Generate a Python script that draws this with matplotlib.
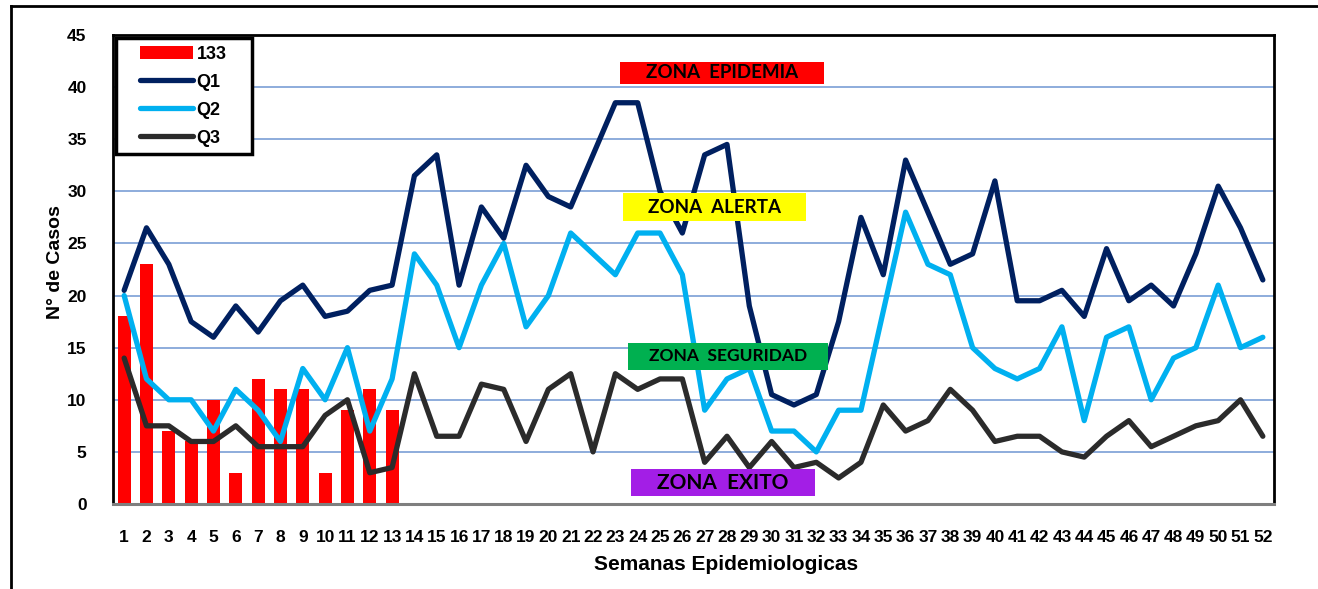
import matplotlib
matplotlib.use('Agg')
import matplotlib.pyplot as plt
from matplotlib.patches import Rectangle, Patch
from matplotlib.lines import Line2D
from matplotlib.legend_handler import HandlerLine2D, HandlerPatch

# Semanas epidemiologicas 1..52
semanas = list(range(1, 53))

# Casos notificados 2013 (solo hasta la semana 13)
casos_133 = [18, 23, 7, 6, 10, 3, 12, 11, 11, 3, 9, 11, 9]

# Cuartiles del canal endemico
q1 = [20.5, 26.5, 23, 17.5, 16, 19, 16.5, 19.5, 21, 18, 18.5, 20.5, 21,
      31.5, 33.5, 21, 28.5, 25.5, 32.5, 29.5, 28.5, 33.5, 38.5, 38.5, 30, 26,
      33.5, 34.5, 19, 10.5, 9.5, 10.5, 17.5, 27.5, 22, 33, 28, 23, 24, 31,
      19.5, 19.5, 20.5, 18, 24.5, 19.5, 21, 19, 24, 30.5, 26.5, 21.5]
q2 = [20, 12, 10, 10, 7, 11, 9, 6, 13, 10, 15, 7, 12,
      24, 21, 15, 21, 25, 17, 20, 26, 24, 22, 26, 26, 22,
      9, 12, 13, 7, 7, 5, 9, 9, 18.5, 28, 23, 22, 15, 13,
      12, 13, 17, 8, 16, 17, 10, 14, 15, 21, 15, 16]
q3 = [14, 7.5, 7.5, 6, 6, 7.5, 5.5, 5.5, 5.5, 8.5, 10, 3, 3.5,
      12.5, 6.5, 6.5, 11.5, 11, 6, 11, 12.5, 5, 12.5, 11, 12, 12,
      4, 6.5, 3.5, 6, 3.5, 4, 2.5, 4, 9.5, 7, 8, 11, 9, 6,
      6.5, 6.5, 5, 4.5, 6.5, 8, 5.5, 6.5, 7.5, 8, 10, 6.5]

# etiquetas de zona: texto, color de fondo, caja en fraccion de ejes, tamano
zonas = [
    ('ZONA  EPIDEMIA', '#ff0000', (0.437, 0.8955, 0.175, 0.047), 13.5),
    ('ZONA  ALERTA', '#ffff00', (0.439, 0.603, 0.158, 0.060), 13.5),
    ('ZONA  SEGURIDAD', '#00b050', (0.444, 0.286, 0.172, 0.0576), 12.5),
    ('ZONA  EXITO', '#a31ee6', (0.446, 0.017, 0.159, 0.0576), 15),
]

ARIAL = ['Liberation Sans', 'DejaVu Sans']
ZONA_FONT = ['Lato', 'Open Sans', 'DejaVu Sans']

fig = plt.figure(figsize=(13.18, 5.89), dpi=100)
ax = fig.add_axes([113 / 1318, 85 / 589, 1161 / 1318, 469 / 589])

# marco exterior del grafico
fig.add_artist(Line2D([11 / 1318, 1.0], [1 - 5.5 / 589, 1 - 5.5 / 589],
                      transform=fig.transFigure, color='black', lw=2))
fig.add_artist(Line2D([11 / 1318, 11 / 1318], [0, 1 - 5.5 / 589],
                      transform=fig.transFigure, color='black', lw=2))

ax.bar(semanas[:len(casos_133)], casos_133, width=0.58, color='#ff0000',
       zorder=2)
estilo = dict(lw=3.8, zorder=3, solid_joinstyle='round', solid_capstyle='round')
ax.plot(semanas, q1, color='#002060', **estilo)
ax.plot(semanas, q2, color='#00b0f0', **estilo)
ax.plot(semanas, q3, color='#2b2b2b', **estilo)

ax.set_xlim(0.5, 52.5)
ax.set_ylim(0, 45)
ax.set_xticks(semanas)
ax.set_xticklabels([str(s) for s in semanas])
ax.set_yticks(range(0, 46, 5))
ax.yaxis.grid(True, color='#6f96d2', lw=1.1, zorder=0)
ax.set_axisbelow(True)
ax.tick_params(axis='both', length=0, labelsize=12.5)
ax.tick_params(axis='x', pad=19)
ax.tick_params(axis='y', pad=19)
for lab in ax.get_xticklabels() + ax.get_yticklabels():
    lab.set_family(ARIAL)
    lab.set_fontweight('bold')

for side in ['top', 'left', 'right']:
    ax.spines[side].set_color('black')
    ax.spines[side].set_linewidth(2)
ax.spines['bottom'].set_color('#7f7f7f')
ax.spines['bottom'].set_linewidth(2.2)

ax.set_xlabel('Semanas Epidemiologicas', family=ARIAL, fontweight='bold',
              fontsize=15)
ax.xaxis.set_label_coords(0.528, -0.108)
ax.set_ylabel('N° de Casos', family=ARIAL, fontweight='bold', fontsize=14)
ax.yaxis.set_label_coords(-0.042, 0.516)

for texto, color, (x0, y0, w, h), fs in zonas:
    ax.add_patch(Rectangle((x0, y0), w, h, transform=ax.transAxes,
                           facecolor=color, edgecolor='none', zorder=5))
    ax.text(x0 + w / 2, y0 + h / 2, texto, transform=ax.transAxes,
            ha='center', va='center', fontsize=fs, fontweight='bold',
            family=ZONA_FONT, color='black', zorder=6)

# leyenda: barra 133 primero, luego los cuartiles
handles = [Patch(facecolor='#ff0000', edgecolor='none'),
           Line2D([], [], color='#002060', lw=3.8, solid_capstyle='round'),
           Line2D([], [], color='#00b0f0', lw=3.8, solid_capstyle='round'),
           Line2D([], [], color='#2b2b2b', lw=3.8, solid_capstyle='round')]
labels = ['133', 'Q1', 'Q2', 'Q3']
leg = ax.legend(handles, labels, loc='upper left',
                bbox_to_anchor=(0.0026, 0.0, 0.117, 0.9936), mode='expand',
                borderaxespad=0,
                handler_map={Patch: HandlerPatch(xpad=0.91),
                             Line2D: HandlerLine2D(xpad=0.91)},
                prop={'family': ARIAL, 'weight': 'bold', 'size': 13},
                handlelength=3.83, handletextpad=0.22, labelspacing=0.61,
                borderpad=0.42, fancybox=False, framealpha=1,
                edgecolor='black')
leg.get_frame().set_linewidth(2.5)
leg.set_zorder(10)

fig.savefig('out.png', dpi=100)
